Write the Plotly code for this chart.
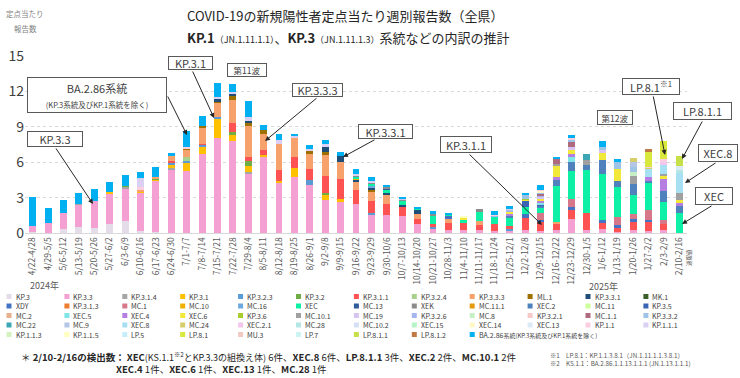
import plotly.graph_objects as go

# ---------------- data ----------------
weeks = ["4/22-4/28", "4/29-5/5", "5/6-5/12", "5/13-5/19", "5/20-5/26", "5/27-6/2",
         "6/3-6/9", "6/10-6/16", "6/17-6/23", "6/24-6/30", "7/1-7/7", "7/8-7/14",
         "7/15-7/21", "7/22-7/28", "7/29-8/4", "8/5-8/11", "8/12-8/18", "8/19-8/25",
         "8/26-9/1", "9/2-9/8", "9/9-9/15", "9/16-9/22", "9/23-9/29", "9/30-10/6",
         "10/7-10/13", "10/14-10/20", "10/21-10/27", "10/28-11/3", "11/4-11/10",
         "11/11-11/17", "11/18-11/24", "11/25-12/1", "12/2-12/8", "12/9-12/15",
         "12/16-12/22", "12/23-12/29", "12/30-1/5", "1/6-1/12", "1/13-1/19",
         "1/20-1/26", "1/27-2/2", "2/3-2/9", "2/10-2/16"]

KP_3 = [0.05, 0, 0.3, 0.5, 0.42, 0.8, 1.0, 0.15, 0.1, 0,
        0, 0, 0, 0, 0, 0, 0, 0, 0, 0,
        0, 0, 0, 0, 0, 0, 0, 0, 0, 0,
        0, 0, 0, 0, 0, 0, 0, 0, 0, 0,
        0, 0, 0]
KP_3_3 = [0.55, 0.88, 1.38, 1.92, 2.29, 2.54, 2.8, 3.3, 4.36, 5.37,
          5.23, 6.72, 8.08, 7.77, 5.08, 6.5, 4.24, 4.75, 4.04, 2.77,
          2.63, 2.49, 1.5, 1.5, 1.44, 0.8, 0.3, 0.23, 0.23, 0.23,
          0.14, 0.23, 0.23, 0.17, 0.23, 1.21, 0.28, 0.37, 0.08, 0.23,
          0.17, 0.23, 0]
KP_3_1_4 = [0, 0, 0, 0.05, 0, 0, 0.1, 0, 0, 0.15,
            0, 0, 0, 0, 0.1, 0, 0, 0, 0, 0,
            0, 0, 0, 0, 0, 0, 0, 0, 0, 0,
            0, 0, 0, 0, 0, 0, 0, 0, 0, 0,
            0, 0, 0]
KP_3_1 = [0, 0, 0, 0, 0, 0.1, 0, 0.08, 0.1, 0.28,
          0.73, 0.56, 1.61, 0.5, 0.54, 0.11, 0.14, 0.79, 0, 0.42,
          0.28, 0, 0, 0, 0, 0, 0, 0, 0, 0,
          0, 0, 0, 0, 0, 0, 0, 0, 0, 0,
          0, 0, 0]
KP_3_2_3 = [0, 0, 0, 0, 0, 0, 0, 0, 0, 0.2,
            0.14, 0.2, 0.1, 0, 0, 0, 0, 0, 0.48, 0,
            0, 0, 0.2, 0, 0, 0, 0.23, 0, 0, 0,
            0, 0.08, 0, 0, 0, 0, 0, 0, 0, 0,
            0, 0, 0]
KP_3_2 = [0, 0, 0, 0, 0, 0, 0.12, 0, 0.1, 0,
          0, 0, 0, 0.28, 0.42, 0, 0, 0, 0, 0.2,
          0, 0, 0, 0, 0, 0, 0, 0, 0, 0,
          0, 0, 0, 0, 0, 0, 0, 0, 0, 0,
          0, 0, 0]
KP_3_1_1 = [0, 0, 0, 0, 0, 0, 0, 0, 0, 0.1,
            0, 0.1, 0, 0.76, 0.34, 0.4, 0.93, 0.9, 0.93, 1.41,
            1.69, 1.19, 1.0, 0.99, 0.76, 0.42, 0.2, 0.62, 0.62, 0.42,
            0.59, 0.28, 1.05, 0.76, 0.56, 0.7, 1.41, 0.56, 0.42, 0.7,
            0.76, 0.56, 0]
KP_3_2_4 = [0, 0, 0, 0, 0, 0, 0, 0, 0, 0,
            0.37, 0, 0, 0, 0, 0, 0, 0, 0, 0,
            0, 0, 0, 0, 0, 0, 0, 0, 0, 0,
            0, 0, 0, 0, 0, 0, 0, 0, 0, 0,
            0, 0, 0]
KP_3_3_3 = [0, 0, 0, 0, 0, 0, 0, 0.08, 0.12, 0.42,
            0.62, 1.3, 1.27, 1.98, 2.63, 1.36, 2.2, 1.64, 1.27, 1.78,
            1.41, 0.65, 0.85, 0.7, 0, 0.42, 0, 0.37, 0, 0.37,
            0, 0, 0, 0, 0.14, 0, 0, 0, 0, 0,
            0, 0, 0]
ML_1 = [0, 0, 0, 0, 0, 0, 0, 0, 0, 0,
        0.1, 0.17, 0.05, 0.28, 0.28, 0.4, 0, 0, 0.23, 0.28,
        0, 0, 0.1, 0, 0, 0, 0, 0, 0, 0,
        0, 0, 0, 0, 0, 0, 0, 0, 0, 0,
        0, 0, 0]
KP_3_3_1 = [0, 0, 0, 0, 0, 0, 0, 0, 0, 0,
            0, 0, 0.25, 0.28, 0.14, 0, 0, 0, 0, 0.42,
            0.48, 0.2, 0.2, 0.2, 0.2, 0.28, 0, 0, 0, 0,
            0, 0, 0, 0, 0, 0, 0, 0, 0, 0,
            0, 0, 0]
MK_1 = [0, 0, 0, 0, 0, 0, 0, 0, 0, 0,
        0, 0, 0, 0, 0, 0, 0, 0, 0, 0,
        0, 0, 0, 0, 0, 0, 0, 0, 0, 0,
        0, 0, 0, 0, 0, 0, 0, 0, 0, 0,
        0, 0, 0]
XDY = [0, 0, 0, 0, 0, 0, 0, 0, 0, 0,
       0, 0, 0, 0, 0, 0, 0, 0, 0, 0,
       0, 0, 0, 0, 0, 0, 0, 0.23, 0, 0,
       0, 0, 0.31, 0.2, 0, 0.28, 0, 0.14, 0.14, 0.28,
       0.2, 0, 0]
KP_3_1_3 = [0, 0, 0, 0, 0, 0, 0, 0, 0, 0,
            0, 0, 0, 0, 0, 0, 0, 0, 0, 0,
            0, 0, 0, 0, 0, 0, 0, 0, 0, 0,
            0, 0, 0, 0, 0, 0, 0, 0, 0, 0,
            0, 0, 0]
MC_1 = [0, 0, 0, 0, 0, 0, 0, 0, 0, 0,
        0, 0, 0, 0, 0, 0, 0, 0, 0, 0,
        0, 0, 0, 0, 0, 0, 0, 0, 0, 0,
        0, 0, 0, 0.56, 0, 0.71, 0, 0, 0.7, 0.42,
        0.85, 0.34, 0]
MC_10 = [0, 0, 0, 0, 0, 0, 0, 0, 0, 0,
         0, 0, 0, 0, 0, 0, 0, 0, 0, 0,
         0, 0.1, 0, 0, 0, 0, 0, 0, 0, 0,
         0, 0, 0, 0, 0, 0, 0, 0, 0, 0,
         0, 0, 0]
MC_16 = [0, 0, 0, 0, 0, 0, 0, 0, 0, 0,
         0, 0, 0, 0, 0, 0, 0, 0, 0, 0,
         0, 0, 0.1, 0, 0, 0, 0, 0, 0, 0,
         0, 0, 0, 0, 0, 0, 0, 0, 0, 0,
         0, 0, 0]
XEC = [0, 0, 0, 0, 0, 0, 0, 0, 0, 0,
       0, 0, 0, 0, 0, 0, 0, 0, 0, 0,
       0, 0.1, 0.25, 0.28, 0.37, 0.17, 0.7, 0.1, 0.28, 0.76,
       0.68, 0.7, 0.62, 0.42, 3.02, 2.34, 3.67, 3.95, 2.54, 1.55,
       2.26, 1.5, 1.7]
MC_13 = [0, 0, 0, 0, 0, 0, 0, 0, 0, 0,
         0, 0, 0, 0, 0, 0, 0, 0, 0, 0,
         0, 0, 0, 0.1, 0, 0, 0, 0, 0, 0,
         0, 0, 0, 0, 0, 0, 0, 0, 0, 0,
         0, 0, 0]
XEK = [0, 0, 0, 0, 0, 0, 0, 0, 0, 0,
       0, 0, 0, 0, 0, 0, 0, 0, 0, 0,
       0, 0.17, 0.1, 0.1, 0.07, 0, 0.2, 0, 0, 0.22,
       0, 0, 0, 0, 0, 0, 0, 0, 0, 0,
       0, 0, 0]
MC_11_1 = [0, 0, 0, 0, 0, 0, 0, 0, 0, 0,
           0, 0, 0, 0, 0, 0, 0, 0, 0, 0,
           0, 0, 0, 0, 0, 0, 0, 0, 0, 0,
           0, 0, 0, 0, 0, 0, 0, 0, 0, 0,
           0, 0, 0]
XEC_2 = [0, 0, 0, 0, 0, 0, 0, 0, 0, 0,
         0, 0, 0, 0, 0, 0, 0, 0, 0, 0,
         0, 0, 0, 0, 0, 0, 0, 0, 0, 0,
         0, 0.2, 0, 0.2, 0.5, 0.76, 0.37, 1.19, 0.56, 0.99,
         0.2, 0.93, 0.57]
MC_11 = [0, 0, 0, 0, 0, 0, 0, 0, 0, 0,
         0, 0, 0, 0, 0, 0, 0, 0, 0, 0,
         0, 0, 0, 0, 0, 0, 0, 0, 0, 0,
         0, 0, 0, 0, 0, 0, 0, 0, 0, 0,
         0, 0, 0]
KP_3_5 = [0, 0, 0, 0, 0, 0, 0, 0, 0, 0,
          0, 0, 0, 0, 0, 0, 0, 0, 0, 0,
          0, 0, 0, 0, 0, 0, 0, 0, 0, 0,
          0, 0, 0.56, 0.1, 0, 0, 0, 0, 0, 0,
          0, 0, 0]
MC_2 = [0, 0, 0, 0, 0, 0, 0, 0, 0, 0,
        0, 0, 0, 0, 0, 0, 0, 0, 0, 0,
        0, 0, 0, 0, 0, 0, 0, 0, 0, 0,
        0, 0, 0, 0, 0, 0, 0, 0, 0, 0,
        0, 0, 0]
XEC_5 = [0, 0, 0, 0, 0, 0, 0, 0, 0, 0,
         0, 0, 0, 0, 0, 0, 0, 0, 0, 0,
         0, 0, 0, 0, 0, 0, 0, 0, 0, 0,
         0, 0, 0, 0.1, 0, 0.48, 0, 0, 0, 0,
         0, 0, 0]
XEC_4 = [0, 0, 0, 0, 0, 0, 0, 0, 0, 0,
         0, 0, 0, 0, 0, 0, 0, 0, 0, 0,
         0, 0, 0, 0, 0, 0, 0, 0, 0, 0,
         0, 0.15, 0, 0.2, 0.28, 0.23, 0, 0, 0, 0,
         0.34, 0.99, 0.28]
XEC_6 = [0, 0, 0, 0, 0, 0, 0, 0, 0, 0,
         0, 0, 0, 0, 0, 0, 0, 0, 0, 0,
         0, 0, 0, 0, 0, 0, 0, 0, 0.15, 0,
         0, 0.17, 0.08, 0.2, 0.99, 0.34, 0, 0.56, 0.99, 0,
         0, 0.28, 0.28]
KP_3_6 = [0, 0, 0, 0, 0, 0, 0, 0, 0, 0,
          0, 0, 0, 0, 0, 0, 0, 0, 0, 0,
          0, 0, 0, 0, 0, 0, 0, 0, 0, 0,
          0, 0, 0.06, 0, 0, 0, 0, 0, 0, 0,
          0, 0, 0]
MC_10_1 = [0, 0, 0, 0, 0, 0, 0, 0, 0, 0,
           0, 0, 0, 0, 0, 0, 0, 0, 0, 0,
           0, 0, 0, 0, 0, 0, 0, 0, 0, 0,
           0, 0, 0, 0, 0.14, 0, 0.48, 0, 0, 0.7,
           0, 0.2, 0.57]
MC_19 = [0, 0, 0, 0, 0, 0, 0, 0, 0, 0,
         0, 0, 0, 0, 0, 0, 0, 0, 0, 0,
         0, 0, 0, 0, 0.07, 0, 0, 0, 0, 0,
         0, 0, 0, 0.15, 0, 0.2, 0, 0.28, 0, 0,
         0, 0, 0]
KP_3_2_6 = [0, 0, 0, 0, 0, 0, 0, 0, 0, 0,
            0, 0, 0, 0, 0, 0, 0, 0, 0, 0,
            0, 0, 0, 0, 0, 0, 0, 0, 0, 0,
            0.08, 0.15, 0, 0.15, 0, 0, 0, 0, 0, 0,
            0, 0, 0]
MC_8 = [0, 0, 0, 0, 0, 0, 0, 0, 0, 0,
        0, 0, 0, 0, 0, 0, 0, 0, 0, 0,
        0, 0, 0, 0, 0, 0, 0, 0, 0, 0,
        0, 0, 0, 0, 0, 0, 0, 0, 0, 0.28,
        0, 0, 0]
KP_3_2_1 = [0, 0, 0, 0, 0, 0, 0, 0, 0, 0,
            0, 0, 0, 0, 0, 0, 0, 0, 0, 0,
            0, 0, 0, 0, 0, 0, 0, 0, 0, 0,
            0, 0, 0, 0, 0, 0, 0, 0, 0, 0,
            0, 0, 0]
MC_1_1 = [0, 0, 0, 0, 0, 0, 0, 0, 0, 0,
          0, 0, 0, 0, 0, 0, 0, 0, 0, 0,
          0, 0, 0, 0, 0, 0, 0, 0, 0, 0,
          0, 0, 0, 0.12, 0.42, 0.42, 0, 0, 0, 0,
          0, 0, 0]
KP_3_3_2 = [0, 0, 0, 0, 0, 0, 0, 0, 0, 0,
            0, 0, 0, 0, 0, 0, 0, 0, 0, 0,
            0, 0, 0, 0, 0, 0, 0, 0, 0, 0,
            0, 0, 0.28, 0.14, 0, 0.23, 0, 0.2, 0.56, 0.42,
            0, 0, 0]
MC_22 = [0, 0, 0, 0, 0, 0, 0, 0, 0, 0,
         0, 0, 0, 0, 0, 0, 0, 0, 0, 0,
         0, 0, 0, 0, 0, 0, 0, 0, 0, 0,
         0, 0, 0, 0, 0, 0, 0.45, 0, 0, 0,
         0, 0, 0]
MC_9 = [0, 0, 0, 0, 0, 0, 0, 0, 0, 0,
        0, 0, 0, 0, 0, 0, 0, 0, 0, 0,
        0, 0, 0, 0, 0, 0, 0, 0, 0, 0,
        0, 0, 0, 0, 0, 0, 0, 0, 0, 0.42,
        0, 0, 0]
XEC_8 = [0, 0, 0, 0, 0, 0, 0, 0, 0, 0,
         0, 0, 0, 0, 0, 0, 0, 0, 0, 0,
         0, 0, 0, 0, 0, 0, 0, 0, 0, 0,
         0, 0, 0, 0, 0, 0, 0, 0, 0, 0,
         0.65, 0.7, 1.7]
MC_24 = [0, 0, 0, 0, 0, 0, 0, 0, 0, 0,
         0, 0, 0, 0, 0, 0, 0, 0, 0, 0,
         0, 0, 0, 0, 0, 0, 0, 0, 0, 0,
         0, 0, 0, 0, 0, 0, 0, 0, 0, 0.34,
         0.1, 0, 0]
XEC_2_1 = [0, 0, 0, 0, 0, 0, 0, 0, 0, 0,
           0, 0, 0, 0, 0, 0, 0, 0, 0, 0,
           0, 0, 0, 0, 0, 0, 0, 0, 0, 0,
           0, 0, 0, 0, 0, 0, 0, 0, 0, 0,
           0, 0.28, 0]
MC_28 = [0, 0, 0, 0, 0, 0, 0, 0, 0, 0,
         0, 0, 0, 0, 0, 0, 0, 0, 0, 0,
         0, 0, 0, 0, 0, 0, 0, 0, 0, 0,
         0, 0, 0, 0, 0, 0, 0, 0, 0, 0,
         0, 0, 0.28]
MC_10_2 = [0, 0, 0, 0, 0, 0, 0, 0, 0, 0,
           0, 0, 0, 0, 0, 0, 0, 0, 0, 0,
           0, 0, 0, 0, 0, 0, 0, 0, 0, 0,
           0, 0, 0, 0, 0, 0, 0, 0, 0, 0,
           0, 0, 0]
XEC_15 = [0, 0, 0, 0, 0, 0, 0, 0, 0, 0,
          0, 0, 0, 0, 0, 0, 0, 0, 0, 0,
          0, 0, 0, 0, 0, 0, 0, 0, 0, 0,
          0, 0, 0, 0, 0, 0, 0, 0, 0, 0,
          0, 0, 0]
XEC_14 = [0, 0, 0, 0, 0, 0, 0, 0, 0, 0,
          0, 0, 0, 0, 0, 0, 0, 0, 0, 0,
          0, 0, 0, 0, 0, 0, 0, 0, 0, 0,
          0, 0, 0, 0.1, 0, 0, 0, 0, 0, 0,
          0, 0, 0]
XEC_13 = [0, 0, 0, 0, 0, 0, 0, 0, 0, 0,
          0, 0, 0, 0, 0, 0, 0, 0, 0, 0,
          0, 0, 0, 0, 0, 0, 0, 0, 0, 0,
          0, 0, 0, 0, 0, 0, 0, 0, 0, 0,
          0, 0, 0.28]
KP_1_1 = [0, 0, 0, 0, 0, 0, 0, 0.3, 0, 0,
          0.07, 0, 0, 0, 0, 0, 0, 0, 0, 0,
          0, 0, 0, 0, 0, 0, 0, 0, 0, 0,
          0.05, 0, 0, 0.1, 0, 0.17, 0, 0, 0, 0,
          0.07, 0.28, 0]
KP_1_1_1 = [0, 0, 0, 0, 0, 0, 0, 0.75, 0, 0,
            0, 0, 0.2, 0.1, 0.28, 0, 0.34, 0.2, 0.17, 0.28,
            0, 0.1, 0.1, 0, 0, 0, 0, 0, 0, 0,
            0, 0.08, 0, 0, 0, 0, 0, 0, 0, 0,
            0, 0, 0]
KP_1_1_3 = [0, 0, 0, 0, 0, 0, 0, 0, 0, 0,
            0, 0, 0, 0, 0, 0, 0, 0, 0, 0,
            0, 0, 0, 0, 0, 0, 0, 0, 0, 0,
            0, 0, 0, 0, 0, 0, 0, 0, 0, 0,
            0, 0, 0]
KP_1_1_5 = [0, 0, 0, 0, 0, 0, 0, 0, 0, 0,
            0, 0, 0, 0, 0, 0, 0, 0, 0, 0,
            0, 0, 0, 0, 0, 0, 0, 0, 0.16, 0,
            0, 0, 0, 0, 0, 0, 0, 0, 0, 0,
            0, 0, 0]
LP_5 = [0, 0, 0, 0, 0, 0, 0, 0, 0, 0,
        0, 0, 0, 0, 0, 0, 0, 0, 0, 0,
        0, 0, 0, 0, 0, 0, 0, 0, 0, 0,
        0, 0, 0, 0, 0, 0, 0, 0, 0, 0,
        0, 0, 0]
LP_8_1 = [0, 0, 0, 0, 0, 0, 0, 0, 0, 0,
          0, 0, 0, 0, 0, 0, 0, 0, 0, 0,
          0, 0, 0, 0, 0, 0, 0, 0, 0, 0,
          0, 0, 0, 0, 0, 0, 0, 0, 0, 0,
          1.27, 1.5, 0]
MU_3 = [0, 0, 0, 0, 0, 0, 0, 0, 0, 0,
        0, 0, 0, 0, 0, 0, 0, 0, 0, 0,
        0, 0, 0, 0, 0, 0, 0, 0, 0, 0,
        0, 0, 0, 0, 0, 0, 0, 0, 0, 0,
        0, 0, 0]
LP_7 = [0, 0, 0, 0, 0, 0, 0, 0, 0, 0,
        0, 0, 0, 0, 0, 0, 0, 0, 0, 0,
        0, 0, 0, 0, 0, 0, 0, 0, 0, 0,
        0, 0, 0, 0, 0, 0, 0, 0, 0, 0,
        0, 0, 0]
LP_8_1_1 = [0, 0, 0, 0, 0, 0, 0, 0, 0, 0,
            0, 0, 0, 0, 0, 0, 0, 0, 0, 0,
            0, 0, 0, 0, 0, 0, 0, 0, 0, 0,
            0, 0, 0, 0, 0, 0, 0, 0, 0, 0,
            0, 0, 0.85]
LP_8_1_2 = [0, 0, 0, 0, 0, 0, 0, 0, 0, 0,
            0, 0, 0, 0, 0, 0, 0, 0, 0, 0,
            0, 0, 0, 0, 0, 0, 0, 0, 0, 0,
            0, 0, 0, 0, 0, 0, 0, 0, 0, 0,
            0.28, 0, 0]
BA_2_86 = [2.45, 1.2, 1.09, 0.92, 0.99, 0.88, 0.9, 0.5, 0.82, 0.3,
           1.36, 0.9, 1.14, 0.7, 1.36, 0.37, 0.5, 0.14, 0.31, 0.28,
           0.37, 0.45, 0.35, 0.23, 0.14, 0.06, 0.23, 0.17, 0, 0,
           0.3, 0.28, 0.2, 0.37, 0.2, 0.2, 0, 0.56, 0.28, 0,
           0, 0, 0]

series_names = ["KP.3", "KP.3.3", "KP.3.1.4", "KP.3.1", "KP.3.2.3", "KP.3.2", "KP.3.1.1",
                "KP.3.2.4", "KP.3.3.3", "ML.1", "KP.3.3.1", "MK.1",
                "XDY", "KP.3.1.3", "MC.1", "MC.10", "MC.16", "XEC", "MC.13", "XEK",
                "MC.11.1", "XEC.2", "MC.11", "KP.3.5",
                "MC.2", "XEC.5", "XEC.4", "XEC.6", "KP.3.6", "MC.10.1", "MC.19", "KP.3.2.6",
                "MC.8", "KP.3.2.1", "MC.1.1", "KP.3.3.2",
                "MC.22", "MC.9", "XEC.8", "MC.24", "XEC.2.1", "MC.28", "MC.10.2", "XEC.15",
                "XEC.14", "XEC.13", "KP.1.1", "KP.1.1.1",
                "KP.1.1.3", "KP.1.1.5", "LP.5", "LP.8.1", "MU.3", "LP.7", "LP.8.1.1",
                "LP.8.1.2", "BA.2.86系統"]
series_values = [KP_3, KP_3_3, KP_3_1_4, KP_3_1, KP_3_2_3, KP_3_2, KP_3_1_1,
                 KP_3_2_4, KP_3_3_3, ML_1, KP_3_3_1, MK_1,
                 XDY, KP_3_1_3, MC_1, MC_10, MC_16, XEC, MC_13, XEK,
                 MC_11_1, XEC_2, MC_11, KP_3_5,
                 MC_2, XEC_5, XEC_4, XEC_6, KP_3_6, MC_10_1, MC_19, KP_3_2_6,
                 MC_8, KP_3_2_1, MC_1_1, KP_3_3_2,
                 MC_22, MC_9, XEC_8, MC_24, XEC_2_1, MC_28, MC_10_2, XEC_15,
                 XEC_14, XEC_13, KP_1_1, KP_1_1_1,
                 KP_1_1_3, KP_1_1_5, LP_5, LP_8_1, MU_3, LP_7, LP_8_1_1,
                 LP_8_1_2, BA_2_86]
colors = ["#E4DCE8", "#F5A0D3", "#A5A5A5", "#FFC000", "#5B9BD5", "#70AD47", "#FF5252",
          "#A9D18E", "#F7A26C", "#9E7000", "#1F4E79", "#3A5F2A",
          "#4472C4", "#ED7D31", "#D7788A", "#F0B000", "#6FA8DC", "#0EF0A5", "#2E5C9A", "#8C8C8C",
          "#E49B0F", "#4F81BD", "#CCFF99", "#3C64B4",
          "#E6B08A", "#7EE6E6", "#B47FE0", "#F2E83A", "#A8CC2A", "#A0A0A0", "#D8C4F2", "#A6B6F2",
          "#C6EFC6", "#F6C8C8", "#B06A7E", "#9DC3E6",
          "#3CA6B4", "#B4C6E6", "#A6E0F2", "#D6CE6A", "#F2C6EC", "#B4E6E6", "#D6E0F4", "#B6F4C8",
          "#FFF8C6", "#DCEAF8", "#FCCFE0", "#DAD0F4",
          "#D2F2BE", "#FFFFBE", "#C6EEF8", "#D8E83C", "#F2C8C2", "#CCF4F2", "#C6E04A",
          "#C27A44", "#00B0F0"]

# ---------------- layout geometry (pixels) ----------------
W, H = 740, 378
L, R, T, B = 25, 53, 56, 145
PW = W - L - R
PH = H - T - B
FONT = "Noto Sans CJK JP"


def dx(px):
    return (px - L) / (PW / 43.0) - 0.5


def dy(py):
    return (H - B - py) * 15.0 / PH


def pxp(px):
    return (px - L) / PW


def pyp(py):
    return (H - B - py) / PH


fig = go.Figure()
for name, vals, col in zip(series_names, series_values, colors):
    fig.add_trace(go.Bar(x=weeks, y=vals, name=name, showlegend=False,
                         marker=dict(color=col, line=dict(width=0))))

annotations = []
shapes = []

# callout arrows: (tail px, head px)
arrows = [((55, 147), (93, 204)), ((167, 95), (187, 135)), ((192, 70), (214, 118)),
          ((318, 97), (265, 141)), ((376, 139), (343, 157)), ((468, 153), (542, 225)),
          ((653, 95), (665, 155)), ((703, 120), (682, 159)), ((717, 162), (685, 183)),
          ((713, 205), (682, 224))]
for (tx, ty), (hx, hy) in arrows:
    annotations.append(dict(x=dx(hx), y=dy(hy), xref="x", yref="y", text="",
                            showarrow=True, ax=tx - hx, ay=ty - hy, arrowhead=2,
                            arrowsize=1, arrowwidth=1, arrowcolor="#262626"))

# callout boxes: text, center px, size, font size
boxes = [("KP.3.3", 55, 139, 56, 16, 11),
         ("BA.2.86系統<br><span style='font-size:7.5px'>(KP.3系統及びKP.1系統を除く)</span>", 97, 95, 140, 36, 11),
         ("KP.3.1", 190.5, 63, 45, 14, 11),
         ("第11波", 247, 70, 40, 14, 8.5),
         ("KP.3.3.3", 317.5, 90, 51, 14, 11),
         ("KP.3.3.1", 385.5, 131, 55, 15, 11),
         ("KP.3.1.1", 466, 144.5, 52, 17, 11),
         ("第12波", 615, 117.5, 36, 15, 8.5),
         ("LP.8.1<sup>※1</sup>", 651, 86.5, 58, 17, 11),
         ("LP.8.1.1", 702.5, 111, 59, 18, 11),
         ("XEC.8", 718, 153, 40, 18, 11),
         ("XEC", 714, 196, 38, 18, 11)]
for text, cx, cy, bw, bh, fs in boxes:
    annotations.append(dict(x=pxp(cx), y=pyp(cy), xref="paper", yref="paper", text=text,
                            showarrow=False, xanchor="center", yanchor="middle",
                            width=bw - 2, height=bh - 2, borderpad=0,
                            bgcolor="white", bordercolor="#595959", borderwidth=1,
                            font=dict(family=FONT, size=fs, color="#404040")))

# titles
annotations.append(dict(x=pxp(345), y=pyp(15), xref="paper", yref="paper", showarrow=False,
                        text="COVID-19の新規陽性者定点当たり週別報告数（全県）",
                        font=dict(family=FONT, size=13, color="#262626"),
                        xanchor="center", yanchor="middle"))
annotations.append(dict(x=pxp(348), y=pyp(37), xref="paper", yref="paper", showarrow=False,
                        text="<b>KP.1</b><span style='font-size:9px'>（JN.1.11.1.1）</span>、"
                             "<b>KP.3</b><span style='font-size:9px'>（JN.1.11.1.3）</span>系統などの内訳の推計",
                        font=dict(family=FONT, size=13, color="#262626"),
                        xanchor="center", yanchor="middle"))
annotations.append(dict(x=pxp(25), y=pyp(14), xref="paper", yref="paper", showarrow=False,
                        text="定点当たり", font=dict(family=FONT, size=7.5, color="#7F7F7F"),
                        xanchor="center", yanchor="middle"))
annotations.append(dict(x=pxp(25), y=pyp(29), xref="paper", yref="paper", showarrow=False,
                        text="報告数", font=dict(family=FONT, size=7.5, color="#7F7F7F"),
                        xanchor="center", yanchor="middle"))

# year labels and provisional note
annotations.append(dict(x=pxp(28), y=pyp(285.5), xref="paper", yref="paper", showarrow=False,
                        text="2024年", font=dict(family=FONT, size=9, color="#595959"),
                        xanchor="left", yanchor="middle"))
annotations.append(dict(x=pxp(587), y=pyp(286), xref="paper", yref="paper", showarrow=False,
                        text="2025年", font=dict(family=FONT, size=9, color="#595959"),
                        xanchor="left", yanchor="middle"))
annotations.append(dict(x=pxp(689), y=pyp(258), xref="paper", yref="paper", showarrow=False,
                        text="速報値", textangle=-90, font=dict(family=FONT, size=5.5, color="#595959"),
                        xanchor="center", yanchor="middle"))

# legend grid
for k, (name, col) in enumerate(zip(series_names, colors)):
    r, c = divmod(k, 12)
    mx = 9 + 57.9 * c
    my = 296.5 + 9.5 * r
    shapes.append(dict(type="rect", xref="paper", yref="paper", xsizemode="pixel",
                       ysizemode="pixel", xanchor=pxp(mx), yanchor=pyp(my),
                       x0=-2.5, x1=2.5, y0=-2.5, y1=2.5, fillcolor=col, line=dict(width=0)))
    label = name
    if name == "BA.2.86系統":
        label = "BA.2.86<span style='font-size:6px'>系統(KP.3系統及びKP.1系統を除く)</span>"
    annotations.append(dict(x=pxp(mx + 4.5), y=pyp(my), xref="paper", yref="paper",
                            showarrow=False, text=label, xanchor="left", yanchor="middle",
                            font=dict(family=FONT, size=7, color="#404040")))

# footnotes
annotations.append(dict(x=pxp(19), y=pyp(356.5), xref="paper", yref="paper", showarrow=False,
                        xanchor="left", yanchor="middle",
                        text="＊ <b>2/10-2/16の検出数：</b> <b>XEC</b><span style='font-size:9px'>(KS.1.1<sup>※2</sup>とKP.3.3の組換え体)</span> 6件、"
                             "<b>XEC.8</b> 6件、<b>LP.8.1.1</b> 3件、<b>XEC.2</b> 2件、<b>MC.10.1</b> 2件",
                        font=dict(family=FONT, size=9.5, color="#262626")))
annotations.append(dict(x=pxp(114), y=pyp(368.5), xref="paper", yref="paper", showarrow=False,
                        xanchor="left", yanchor="middle",
                        text="<b>XEC.4</b> 1件、<b>XEC.6</b> 1件、<b>XEC.13</b> 1件、<b>MC.28</b> 1件",
                        font=dict(family=FONT, size=9.5, color="#262626")))
annotations.append(dict(x=pxp(548), y=pyp(355), xref="paper", yref="paper", showarrow=False,
                        xanchor="left", yanchor="middle",
                        text="※1　LP.8.1：KP.1.1.3.8.1（JN.1.11.1.1.3.8.1）",
                        font=dict(family=FONT, size=6.3, color="#595959")))
annotations.append(dict(x=pxp(548), y=pyp(363.5), xref="paper", yref="paper", showarrow=False,
                        xanchor="left", yanchor="middle",
                        text="※2　KS.1.1：BA.2.86.1.1.13.1.1.1 (JN.1.13.1.1.1)",
                        font=dict(family=FONT, size=6.3, color="#595959")))

fig.update_layout(
    width=W, height=H, margin=dict(l=L, r=R, t=T, b=B, pad=0, autoexpand=False),
    barmode="stack", bargap=0.55,
    paper_bgcolor="white", plot_bgcolor="white",
    font=dict(family=FONT, color="#404040"),
    showlegend=False,
    annotations=annotations, shapes=shapes,
    xaxis=dict(type="category", range=[-0.5, 42.5], tickmode="array", tickvals=weeks,
               ticktext=weeks, tickangle=-90, tickfont=dict(family=FONT, size=8.5, color="#595959"),
               showgrid=False, ticks="", showline=True, linecolor="#D9D9D9", linewidth=1,
               zeroline=False, automargin=False),
    yaxis=dict(range=[0, 15], tickmode="array", tickvals=[0, 3, 6, 9, 12, 15],
               tickfont=dict(family=FONT, size=14, color="#404040"),
               showgrid=True, gridcolor="#D9D9D9", griddash="dot", gridwidth=1,
               zeroline=False, showline=False, ticks="", automargin=False),
)

fig.write_html("out.html", config={"displayModeBar": False},
               post_script="document.body.style.margin='0';document.body.style.padding='0';")
